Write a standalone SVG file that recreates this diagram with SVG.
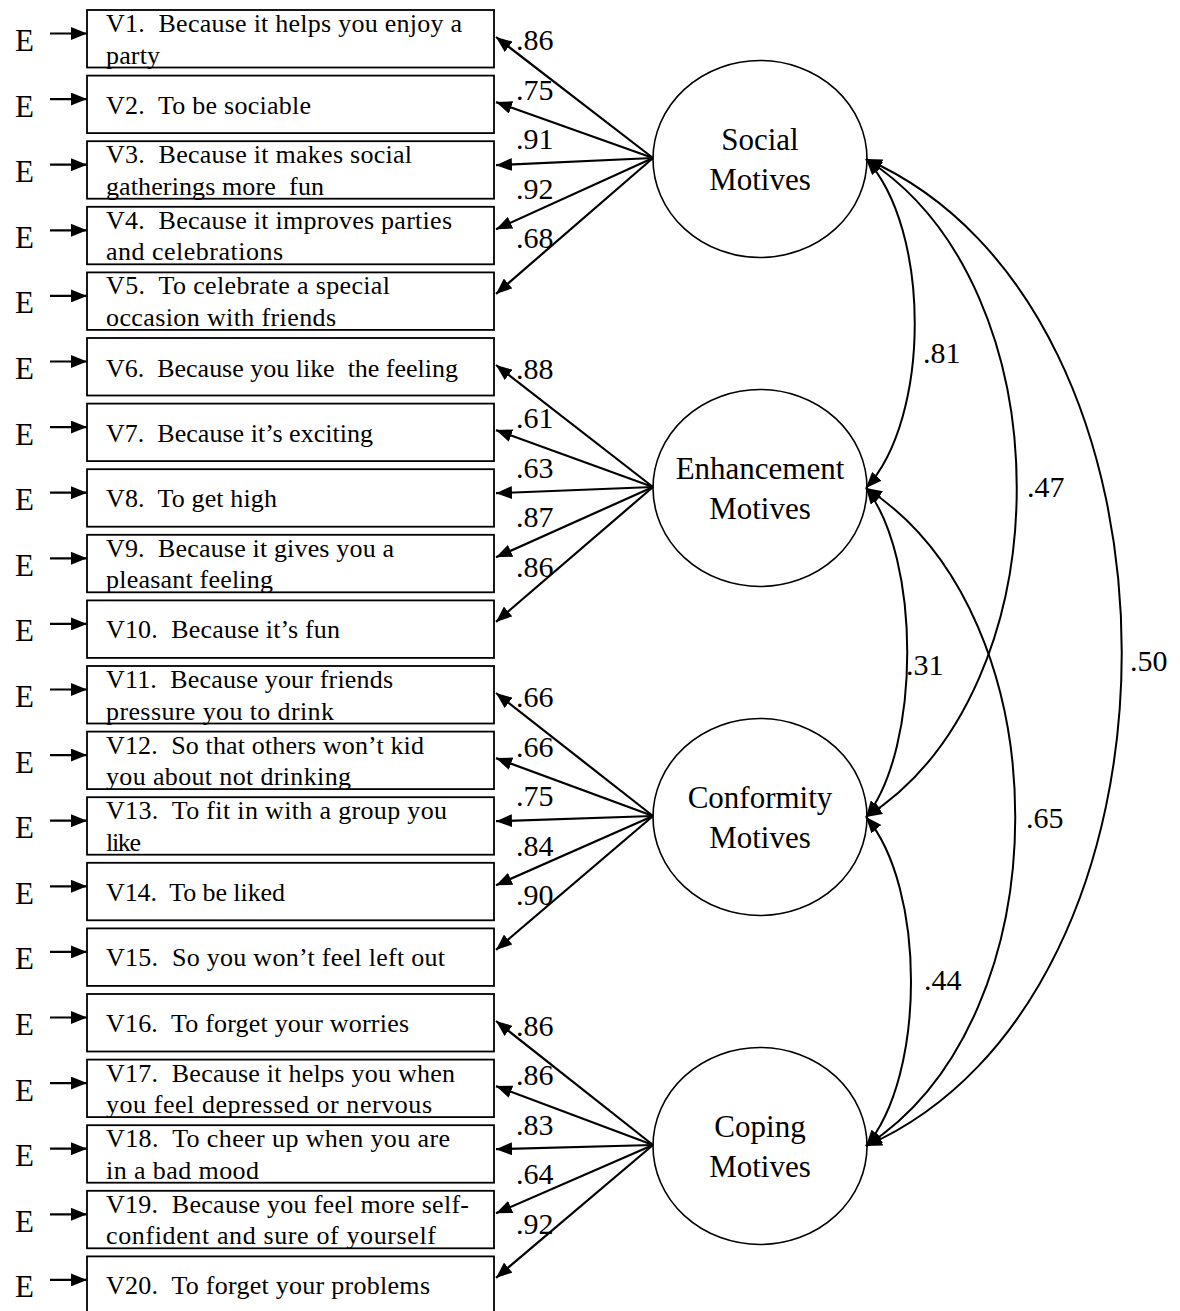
<svg xmlns="http://www.w3.org/2000/svg" width="1180" height="1311" viewBox="0 0 1180 1311">
<style>
.box{fill:#fff;stroke:#000;stroke-width:1.8}
.t{font-family:"Liberation Serif","Times New Roman",serif;font-size:26px;fill:#000;white-space:pre}
.e{font-family:"Liberation Serif","Times New Roman",serif;font-size:31px;fill:#000}
.lat{fill:#fff;stroke:#000;stroke-width:1.6}
.lt{font-family:"Liberation Serif","Times New Roman",serif;font-size:31px;fill:#000;text-anchor:middle}
.num{font-family:"Liberation Serif","Times New Roman",serif;font-size:30px;fill:#000}
.ar{fill:none;stroke:#000;stroke-width:2.2;marker-end:url(#ah)}
.cv{fill:none;stroke:#000;stroke-width:2;marker-start:url(#ah2);marker-end:url(#ah2)}
</style>
<defs>
<marker id="ah" viewBox="0 0 16 13" refX="16" refY="6.5" markerWidth="16" markerHeight="13" markerUnits="userSpaceOnUse" orient="auto"><path d="M0,0 L16,6.5 L0,13 z" fill="#000"/></marker>
<marker id="ah2" viewBox="0 0 16 13" refX="16" refY="6.5" markerWidth="16" markerHeight="13" markerUnits="userSpaceOnUse" orient="auto-start-reverse"><path d="M0,0 L16,6.5 L0,13 z" fill="#000"/></marker>
</defs>
<rect width="1180" height="1311" fill="#fff"/>

<g id="errors">
<g id="e1"><text class="e" x="15" y="51">E</text></g>
<g id="e2"><text class="e" x="15" y="116.6">E</text></g>
<g id="e3"><text class="e" x="15" y="182.2">E</text></g>
<g id="e4"><text class="e" x="15" y="247.8">E</text></g>
<g id="e5"><text class="e" x="15" y="313.4">E</text></g>
<g id="e6"><text class="e" x="15" y="379">E</text></g>
<g id="e7"><text class="e" x="15" y="444.6">E</text></g>
<g id="e8"><text class="e" x="15" y="510.2">E</text></g>
<g id="e9"><text class="e" x="15" y="575.8">E</text></g>
<g id="e10"><text class="e" x="15" y="641.4">E</text></g>
<g id="e11"><text class="e" x="15" y="707">E</text></g>
<g id="e12"><text class="e" x="15" y="772.6">E</text></g>
<g id="e13"><text class="e" x="15" y="838.2">E</text></g>
<g id="e14"><text class="e" x="15" y="903.8">E</text></g>
<g id="e15"><text class="e" x="15" y="969.4">E</text></g>
<g id="e16"><text class="e" x="15" y="1035">E</text></g>
<g id="e17"><text class="e" x="15" y="1100.6">E</text></g>
<g id="e18"><text class="e" x="15" y="1166.2">E</text></g>
<g id="e19"><text class="e" x="15" y="1231.8">E</text></g>
<g id="e20"><text class="e" x="15" y="1297.4">E</text></g>
</g>

<g id="items">
<g id="v1"><rect class="box" x="87" y="10" width="407" height="57.5"/><text class="t" x="106" y="32" textLength="356" lengthAdjust="spacing">V1.  Because it helps you enjoy a</text><text class="t" x="106" y="63.5" textLength="54" lengthAdjust="spacing">party</text></g>
<g id="v2"><rect class="box" x="87" y="75.6" width="407" height="57.5"/><text class="t" x="106" y="113.6" textLength="205" lengthAdjust="spacing">V2.  To be sociable</text></g>
<g id="v3"><rect class="box" x="87" y="141.2" width="407" height="57.5"/><text class="t" x="106" y="163.2" textLength="306" lengthAdjust="spacing">V3.  Because it makes social</text><text class="t" x="106" y="194.7" textLength="218" lengthAdjust="spacing">gatherings more  fun</text></g>
<g id="v4"><rect class="box" x="87" y="206.8" width="407" height="57.5"/><text class="t" x="106" y="228.8" textLength="346" lengthAdjust="spacing">V4.  Because it improves parties</text><text class="t" x="106" y="260.3" textLength="177" lengthAdjust="spacing">and celebrations</text></g>
<g id="v5"><rect class="box" x="87" y="272.4" width="407" height="57.5"/><text class="t" x="106" y="294.4" textLength="284" lengthAdjust="spacing">V5.  To celebrate a special</text><text class="t" x="106" y="325.9" textLength="230" lengthAdjust="spacing">occasion with friends</text></g>
<g id="v6"><rect class="box" x="87" y="338" width="407" height="57.5"/><text class="t" x="106" y="376.5" textLength="352" lengthAdjust="spacing">V6.  Because you like  the feeling</text></g>
<g id="v7"><rect class="box" x="87" y="403.6" width="407" height="57.5"/><text class="t" x="106" y="441.6" textLength="267" lengthAdjust="spacing">V7.  Because it’s exciting</text></g>
<g id="v8"><rect class="box" x="87" y="469.2" width="407" height="57.5"/><text class="t" x="106" y="507.2" textLength="171" lengthAdjust="spacing">V8.  To get high</text></g>
<g id="v9"><rect class="box" x="87" y="534.8" width="407" height="57.5"/><text class="t" x="106" y="556.8" textLength="288" lengthAdjust="spacing">V9.  Because it gives you a</text><text class="t" x="106" y="588.3" textLength="167" lengthAdjust="spacing">pleasant feeling</text></g>
<g id="v10"><rect class="box" x="87" y="600.4" width="407" height="57.5"/><text class="t" x="106" y="638.4" textLength="234" lengthAdjust="spacing">V10.  Because it’s fun</text></g>
<g id="v11"><rect class="box" x="87" y="666" width="407" height="57.5"/><text class="t" x="106" y="688" textLength="287" lengthAdjust="spacing">V11.  Because your friends</text><text class="t" x="106" y="719.5" textLength="228" lengthAdjust="spacing">pressure you to drink</text></g>
<g id="v12"><rect class="box" x="87" y="731.6" width="407" height="57.5"/><text class="t" x="106" y="753.6" textLength="318" lengthAdjust="spacing">V12.  So that others won’t kid</text><text class="t" x="106" y="785.1" textLength="245" lengthAdjust="spacing">you about not drinking</text></g>
<g id="v13"><rect class="box" x="87" y="797.2" width="407" height="57.5"/><text class="t" x="106" y="819.2" textLength="341" lengthAdjust="spacing">V13.  To fit in with a group you</text><text class="t" x="106" y="850.7" textLength="35" lengthAdjust="spacing">like</text></g>
<g id="v14"><rect class="box" x="87" y="862.8" width="407" height="57.5"/><text class="t" x="106" y="900.8" textLength="179" lengthAdjust="spacing">V14.  To be liked</text></g>
<g id="v15"><rect class="box" x="87" y="928.4" width="407" height="57.5"/><text class="t" x="106" y="966.4" textLength="339" lengthAdjust="spacing">V15.  So you won’t feel left out</text></g>
<g id="v16"><rect class="box" x="87" y="994" width="407" height="57.5"/><text class="t" x="106" y="1032" textLength="303" lengthAdjust="spacing">V16.  To forget your worries</text></g>
<g id="v17"><rect class="box" x="87" y="1059.6" width="407" height="57.5"/><text class="t" x="106" y="1081.6" textLength="349" lengthAdjust="spacing">V17.  Because it helps you when</text><text class="t" x="106" y="1113.1" textLength="326" lengthAdjust="spacing">you feel depressed or nervous</text></g>
<g id="v18"><rect class="box" x="87" y="1125.2" width="407" height="57.5"/><text class="t" x="106" y="1147.2" textLength="344" lengthAdjust="spacing">V18.  To cheer up when you are</text><text class="t" x="106" y="1178.7" textLength="153" lengthAdjust="spacing">in a bad mood</text></g>
<g id="v19"><rect class="box" x="87" y="1190.8" width="407" height="57.5"/><text class="t" x="106" y="1212.8" textLength="363" lengthAdjust="spacing">V19.  Because you feel more self-</text><text class="t" x="106" y="1244.3" textLength="330" lengthAdjust="spacing">confident and sure of yourself</text></g>
<g id="v20"><rect class="box" x="87" y="1256.4" width="407" height="57.5"/><text class="t" x="106" y="1294.4" textLength="324" lengthAdjust="spacing">V20.  To forget your problems</text></g>
</g>

<g id="social"><ellipse class="lat" cx="760" cy="159" rx="107" ry="98.5"/><text class="lt" x="760" y="149.5">Social</text><text class="lt" x="760" y="190">Motives</text></g>
<g id="enhancement"><ellipse class="lat" cx="760" cy="488" rx="107" ry="98.5"/><text class="lt" x="760" y="478.5">Enhancement</text><text class="lt" x="760" y="519">Motives</text></g>
<g id="conformity"><ellipse class="lat" cx="760" cy="817" rx="107" ry="98.5"/><text class="lt" x="760" y="807.5">Conformity</text><text class="lt" x="760" y="848">Motives</text></g>
<g id="coping"><ellipse class="lat" cx="760" cy="1146" rx="107" ry="98.5"/><text class="lt" x="760" y="1136.5">Coping</text><text class="lt" x="760" y="1177">Motives</text></g>

<g id="connectors">
<g id="error-arrows">
<line class="ar" x1="50" y1="33.5" x2="87" y2="33.5"/>
<line class="ar" x1="50" y1="99.1" x2="87" y2="99.1"/>
<line class="ar" x1="50" y1="164.7" x2="87" y2="164.7"/>
<line class="ar" x1="50" y1="230.3" x2="87" y2="230.3"/>
<line class="ar" x1="50" y1="295.9" x2="87" y2="295.9"/>
<line class="ar" x1="50" y1="361.5" x2="87" y2="361.5"/>
<line class="ar" x1="50" y1="427.1" x2="87" y2="427.1"/>
<line class="ar" x1="50" y1="492.7" x2="87" y2="492.7"/>
<line class="ar" x1="50" y1="558.3" x2="87" y2="558.3"/>
<line class="ar" x1="50" y1="623.9" x2="87" y2="623.9"/>
<line class="ar" x1="50" y1="689.5" x2="87" y2="689.5"/>
<line class="ar" x1="50" y1="755.1" x2="87" y2="755.1"/>
<line class="ar" x1="50" y1="820.7" x2="87" y2="820.7"/>
<line class="ar" x1="50" y1="886.3" x2="87" y2="886.3"/>
<line class="ar" x1="50" y1="951.9" x2="87" y2="951.9"/>
<line class="ar" x1="50" y1="1017.5" x2="87" y2="1017.5"/>
<line class="ar" x1="50" y1="1083.1" x2="87" y2="1083.1"/>
<line class="ar" x1="50" y1="1148.7" x2="87" y2="1148.7"/>
<line class="ar" x1="50" y1="1214.3" x2="87" y2="1214.3"/>
<line class="ar" x1="50" y1="1279.9" x2="87" y2="1279.9"/>
</g>
<g id="loadings">
<line class="ar" x1="653" y1="158" x2="496" y2="37"/>
<line class="ar" x1="653" y1="158" x2="496" y2="102.1"/>
<line class="ar" x1="653" y1="158" x2="496" y2="165.2"/>
<line class="ar" x1="653" y1="158" x2="496" y2="229.3"/>
<line class="ar" x1="653" y1="158" x2="496" y2="293.9"/>
<line class="ar" x1="653" y1="487" x2="496" y2="365"/>
<line class="ar" x1="653" y1="487" x2="496" y2="430.1"/>
<line class="ar" x1="653" y1="487" x2="496" y2="493.2"/>
<line class="ar" x1="653" y1="487" x2="496" y2="557.3"/>
<line class="ar" x1="653" y1="487" x2="496" y2="621.9"/>
<line class="ar" x1="653" y1="816" x2="496" y2="693"/>
<line class="ar" x1="653" y1="816" x2="496" y2="758.1"/>
<line class="ar" x1="653" y1="816" x2="496" y2="821.2"/>
<line class="ar" x1="653" y1="816" x2="496" y2="885.3"/>
<line class="ar" x1="653" y1="816" x2="496" y2="949.9"/>
<line class="ar" x1="653" y1="1145" x2="496" y2="1021"/>
<line class="ar" x1="653" y1="1145" x2="496" y2="1086.1"/>
<line class="ar" x1="653" y1="1145" x2="496" y2="1149.2"/>
<line class="ar" x1="653" y1="1145" x2="496" y2="1213.3"/>
<line class="ar" x1="653" y1="1145" x2="496" y2="1277.9"/>
</g>
<g id="covariances">
<path class="cv" d="M866,159 C931,229 931,418 866,488"/>
<path class="cv" d="M866,159 C1067,287 1067,689 866,817"/>
<path class="cv" d="M866,159 C1207,309 1207,996 866,1146"/>
<path class="cv" d="M866,488 C921,558 921,747 866,817"/>
<path class="cv" d="M866,488 C1065,616 1065,1018 866,1146"/>
<path class="cv" d="M866,817 C926,887 926,1076 866,1146"/>
</g>
<g id="loading-labels">
<text class="num" x="516" y="50">.86</text>
<text class="num" x="516" y="99.5">.75</text>
<text class="num" x="516" y="149">.91</text>
<text class="num" x="516" y="198.5">.92</text>
<text class="num" x="516" y="248">.68</text>
<text class="num" x="516" y="378.6">.88</text>
<text class="num" x="516" y="428.1">.61</text>
<text class="num" x="516" y="477.6">.63</text>
<text class="num" x="516" y="527.1">.87</text>
<text class="num" x="516" y="576.6">.86</text>
<text class="num" x="516" y="707.2">.66</text>
<text class="num" x="516" y="756.7">.66</text>
<text class="num" x="516" y="806.2">.75</text>
<text class="num" x="516" y="855.7">.84</text>
<text class="num" x="516" y="905.2">.90</text>
<text class="num" x="516" y="1035.8">.86</text>
<text class="num" x="516" y="1085.3">.86</text>
<text class="num" x="516" y="1134.8">.83</text>
<text class="num" x="516" y="1184.3">.64</text>
<text class="num" x="516" y="1233.8">.92</text>
</g>
<g id="covariance-labels">
<text class="num" x="923" y="363">.81</text>
<text class="num" x="1027" y="497">.47</text>
<text class="num" x="1130" y="671">.50</text>
<text class="num" x="906" y="675">.31</text>
<text class="num" x="1026" y="828">.65</text>
<text class="num" x="924" y="990">.44</text>
</g>
</g>
</svg>
